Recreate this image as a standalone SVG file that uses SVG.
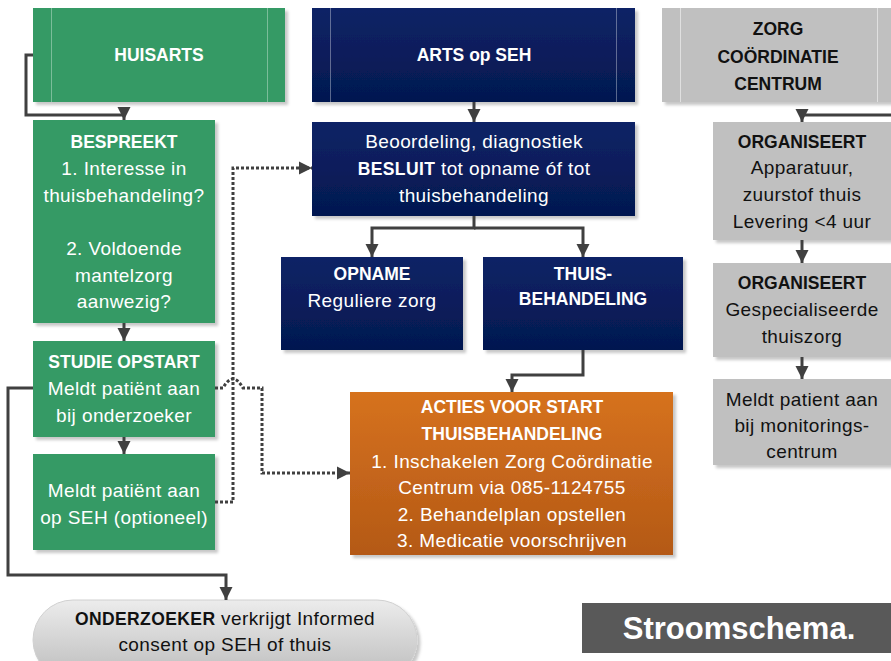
<svg xmlns="http://www.w3.org/2000/svg" width="891" height="661" viewBox="0 0 891 661">
<defs>
<style>
text{font-family:"Liberation Sans",Arial,sans-serif;text-anchor:middle}
.t{font-size:19px;letter-spacing:0.4px}
.b{font-size:17.5px;font-weight:bold}
.w{fill:#ffffff}
.k{fill:#111111}
.green{fill:#349a65}
.gray{fill:#c0c0c0}
.inner{stroke:#ffffff;stroke-opacity:0.35;stroke-width:1}
.conn{fill:none;stroke:#404040;stroke-width:3}
.dot{fill:none;stroke:#404040;stroke-width:3;stroke-dasharray:3 2}
</style>
<linearGradient id="navy" x1="0" y1="0" x2="0" y2="1"><stop offset="0" stop-color="#0d2366"/><stop offset="1" stop-color="#041850"/></linearGradient>
<linearGradient id="orange" x1="0" y1="0" x2="0" y2="1"><stop offset="0" stop-color="#d6721f"/><stop offset="1" stop-color="#b45916"/></linearGradient>
<linearGradient id="pill" x1="0" y1="0" x2="0" y2="1"><stop offset="0" stop-color="#ececec"/><stop offset="1" stop-color="#bcbcbc"/></linearGradient>
<filter id="sh" x="-10%" y="-10%" width="130%" height="130%"><feDropShadow dx="3" dy="3" stdDeviation="1.5" flood-color="#000" flood-opacity="0.22"/></filter>
<marker id="ah" viewBox="0 0 10 10" refX="10" refY="5" markerWidth="4.5" markerHeight="4.5" orient="auto" markerUnits="strokeWidth"><path d="M0,0 L10,5 L0,10 Z" fill="#404040"/></marker>
</defs>
<rect width="891" height="661" fill="#ffffff"/>

<g id="huisarts">
<rect x="33" y="8" width="252" height="94" class="green" filter="url(#sh)"/>
<line x1="51.5" y1="8" x2="51.5" y2="102" class="inner"/><line x1="267.5" y1="8" x2="267.5" y2="102" class="inner"/>
<text x="159" y="61" class="b w">HUISARTS</text>
</g>
<g id="arts">
<rect x="312" y="8" width="323" height="94" fill="url(#navy)" filter="url(#sh)"/>
<line x1="330.5" y1="8" x2="330.5" y2="102" class="inner"/><line x1="616.5" y1="8" x2="616.5" y2="102" class="inner"/>
<text x="474" y="61" class="b w">ARTS op SEH</text>
</g>
<g id="zorg">
<rect x="662" y="8" width="240" height="94" class="gray" filter="url(#sh)"/>
<line x1="680.5" y1="8" x2="680.5" y2="102" stroke="#ffffff" stroke-opacity="0.5"/><line x1="877.5" y1="8" x2="877.5" y2="102" stroke="#ffffff" stroke-opacity="0.5"/>
<text x="778" y="35" class="b k">ZORG</text>
<text x="778" y="63" class="b k">COÖRDINATIE</text>
<text x="778" y="90" class="b k">CENTRUM</text>
</g>

<g id="bespreekt">
<rect x="33" y="120" width="182" height="203" class="green" filter="url(#sh)"/>
<text x="124" y="148" class="b w">BESPREEKT</text>
<text x="124" y="175" class="t w">1. Interesse in</text>
<text x="124" y="202" class="t w">thuisbehandeling?</text>
<text x="124" y="255" class="t w">2. Voldoende</text>
<text x="124" y="282" class="t w">mantelzorg</text>
<text x="124" y="308" class="t w">aanwezig?</text>
</g>
<g id="studie">
<rect x="33" y="341" width="182" height="96" class="green" filter="url(#sh)"/>
<text x="124" y="368" class="b w">STUDIE OPSTART</text>
<text x="124" y="395" class="t w">Meldt patiënt aan</text>
<text x="124" y="422" class="t w">bij onderzoeker</text>
</g>
<g id="meldtseh">
<rect x="33" y="454" width="182" height="96" class="green" filter="url(#sh)"/>
<text x="124" y="497" class="t w">Meldt patiënt aan</text>
<text x="124" y="524" class="t w">op SEH (optioneel)</text>
</g>

<g id="beoordeling">
<rect x="312" y="122" width="323" height="94" fill="url(#navy)" filter="url(#sh)"/>
<text x="474" y="148" class="t w">Beoordeling, diagnostiek</text>
<text x="474" y="175" class="t w"><tspan font-weight="bold" font-size="17.5px">BESLUIT</tspan> tot opname óf tot</text>
<text x="474" y="202" class="t w">thuisbehandeling</text>
</g>
<g id="opname">
<rect x="281" y="257" width="182" height="93" fill="url(#navy)" filter="url(#sh)"/>
<text x="372" y="280" class="b w">OPNAME</text>
<text x="372" y="307" class="t w">Reguliere zorg</text>
</g>
<g id="thuisbehandeling">
<rect x="483" y="257" width="200" height="93" fill="url(#navy)" filter="url(#sh)"/>
<text x="583" y="280" class="b w">THUIS-</text>
<text x="583" y="305" class="b w">BEHANDELING</text>
</g>
<g id="acties">
<rect x="350" y="392" width="323" height="163" fill="url(#orange)" filter="url(#sh)"/>
<text x="512" y="413" class="b w" font-size="18px">ACTIES VOOR START</text>
<text x="512" y="440" class="b w" font-size="18px">THUISBEHANDELING</text>
<text x="512" y="468" class="t w">1. Inschakelen Zorg Coördinatie</text>
<text x="512" y="494" class="t w">Centrum via 085-1124755</text>
<text x="512" y="521" class="t w">2. Behandelplan opstellen</text>
<text x="512" y="547" class="t w">3. Medicatie voorschrijven</text>
</g>

<g id="org1">
<rect x="713" y="122" width="190" height="118" class="gray" filter="url(#sh)"/>
<text x="802" y="148" class="b k">ORGANISEERT</text>
<text x="802" y="174" class="t k">Apparatuur,</text>
<text x="802" y="201" class="t k">zuurstof thuis</text>
<text x="802" y="228" class="t k">Levering &lt;4 uur</text>
</g>
<g id="org2">
<rect x="713" y="263" width="190" height="94" class="gray" filter="url(#sh)"/>
<text x="802" y="289" class="b k">ORGANISEERT</text>
<text x="802" y="316" class="t k">Gespecialiseerde</text>
<text x="802" y="343" class="t k">thuiszorg</text>
</g>
<g id="monitoring">
<rect x="713" y="379" width="190" height="86" class="gray" filter="url(#sh)"/>
<text x="802" y="406" class="t k">Meldt patient aan</text>
<text x="802" y="432" class="t k">bij monitorings-</text>
<text x="802" y="458" class="t k">centrum</text>
</g>

<g id="onderzoeker">
<rect x="33" y="600" width="384" height="80" rx="40" ry="40" fill="url(#pill)" stroke="#d0d0d0" stroke-width="1" filter="url(#sh)"/>
<text x="225" y="625" class="t k"><tspan font-weight="bold" font-size="17.5px">ONDERZOEKER</tspan> verkrijgt Informed</text>
<text x="225" y="651" class="t k">consent op SEH of thuis</text>
</g>

<g id="stroomschema">
<rect x="582" y="603" width="320" height="50" fill="#595959"/>
<text x="739" y="639" font-size="31px" font-weight="bold" fill="#ffffff">Stroomschema.</text>
</g>

<g id="connectors">
<path d="M33,55 H26 V115 H124 V120" class="conn" marker-end="url(#ah)"/>
<path d="M124,323 V341" class="conn" marker-end="url(#ah)"/>
<path d="M124,437 V454" class="conn" marker-end="url(#ah)"/>
<path d="M474,102 V122" class="conn" marker-end="url(#ah)"/>
<path d="M474,216 V228 H372 V257" class="conn" marker-end="url(#ah)"/>
<path d="M474,228 H583 V257" class="conn" marker-end="url(#ah)"/>
<path d="M583,350 V375 H512 V392" class="conn" marker-end="url(#ah)"/>
<path d="M891,115 H802 V122" class="conn" marker-end="url(#ah)"/>
<path d="M802,240 V263" class="conn" marker-end="url(#ah)"/>
<path d="M802,357 V379" class="conn" marker-end="url(#ah)"/>
<path d="M33,388 H8 V575 H226 V600" class="conn" marker-end="url(#ah)"/>
<path d="M215,502 H233 V168 H312" class="dot" marker-end="url(#ah)"/>
<path d="M215,388 H223 Q233,370 243,388 H262 V473 H350" class="dot" marker-end="url(#ah)"/>
</g>
</svg>
